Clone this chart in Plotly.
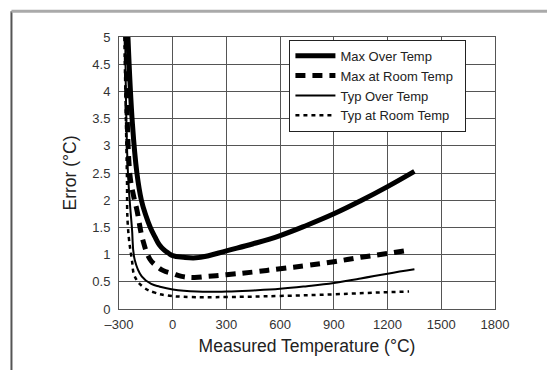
import plotly.graph_objects as go

# Error curves (temperature in °C, error in °C)
max_over_t = [-250, -225, -200, -175, -150, -125, -100, -75, -50, -25, 0, 60, 130, 200, 300, 450, 600, 750, 900, 1050, 1200, 1350]
max_over_e = [5.0, 3.4, 2.5, 2.0, 1.72, 1.5, 1.33, 1.18, 1.09, 1.03, 0.98, 0.95, 0.94, 0.98, 1.07, 1.2, 1.35, 1.54, 1.75, 1.99, 2.25, 2.53]

max_room_t = [-260, -240, -220, -200, -167, -128, -90, -55, 0, 50, 120, 200, 300, 450, 600, 750, 900, 1050, 1200, 1300]
max_room_e = [5.0, 2.5, 2.1, 1.82, 1.27, 0.92, 0.79, 0.71, 0.65, 0.6, 0.58, 0.6, 0.63, 0.68, 0.74, 0.8, 0.87, 0.95, 1.02, 1.07]

typ_over_t = [-265, -250, -228, -212, -173, -120, -72, 0, 135, 300, 450, 600, 750, 900, 1050, 1200, 1350]
typ_over_e = [5.0, 2.5, 1.5, 0.9, 0.6, 0.46, 0.41, 0.36, 0.32, 0.32, 0.34, 0.37, 0.42, 0.48, 0.56, 0.65, 0.73]

typ_room_t = [-270, -256, -250, -228, -212, -167, -100, -33, 100, 300, 600, 900, 1200, 1320]
typ_room_e = [5.0, 2.5, 1.5, 0.9, 0.6, 0.41, 0.3, 0.25, 0.22, 0.22, 0.24, 0.27, 0.31, 0.32]

x_ticks = [-300, 0, 300, 600, 900, 1200, 1500, 1800]
y_ticks = [0, 0.5, 1, 1.5, 2, 2.5, 3, 3.5, 4, 4.5, 5]

FONT = "Liberation Sans, Arial, sans-serif"
PAD = "\u00a0\u00a0"

fig = go.Figure()

series = [
    ("Max Over Temp", max_over_t, max_over_e, 5, "solid"),
    ("Max at Room Temp", max_room_t, max_room_e, 5, "10px,7px"),
    ("Typ Over Temp", typ_over_t, typ_over_e, 2, "solid"),
    ("Typ at Room Temp", typ_room_t, typ_room_e, 2.5, "4px,4px"),
]
for name, xs, ys, w, dash in series:
    fig.add_trace(go.Scatter(
        x=xs, y=ys, name=name + PAD, mode="lines",
        line=dict(color="black", width=w, dash=dash, shape="spline", smoothing=1.2),
    ))

axis_common = dict(
    showgrid=True, gridcolor="#555555", gridwidth=1,
    showline=True, linecolor="#555555", linewidth=1, mirror=True,
    zeroline=False, ticks="",
    tickfont=dict(family=FONT, size=13, color="#333333"),
)

fig.update_xaxes(
    range=[-300, 1800], tickvals=x_ticks,
    ticktext=["\u2013300"] + [str(v) for v in x_ticks[1:]],
    ticklabelstandoff=3,
    title=dict(text="Measured Temperature (°C)", font=dict(family=FONT, size=17.5, color="#222222"), standoff=9),
    **axis_common,
)
fig.update_yaxes(
    range=[0, 5], tickvals=y_ticks,
    ticktext=[("%g" % v) for v in y_ticks],
    ticklabelstandoff=5,
    title=dict(text="Error (°C)", font=dict(family=FONT, size=17.5, color="#222222"), standoff=11),
    **axis_common,
)

# page frame lines (left and top), placed relative to the plot area
fig.add_shape(type="line", xref="paper", yref="paper", x0=-0.286, x1=-0.286, y0=1.095, y1=-0.25,
              line=dict(color="#555555", width=2), layer="above")
fig.add_shape(type="line", xref="paper", yref="paper", x0=-0.286, x1=1.14, y0=1.095, y1=1.095,
              line=dict(color="#aaaaaa", width=3), layer="above")

fig.update_layout(
    width=547, height=370,
    margin=dict(l=119, r=52, t=37, b=61),
    paper_bgcolor="white", plot_bgcolor="white",
    showlegend=True,
    legend=dict(
        x=0.924, y=0.99, xanchor="right", yanchor="top",
        bgcolor="white", bordercolor="#222222", borderwidth=1,
        font=dict(family=FONT, size=13, color="#222222"),
        tracegroupgap=0, itemwidth=40,
    ),
    font=dict(family=FONT),
)

fig.write_html("out.html", config={"displayModeBar": False},
               post_script="document.body.style.margin='0';")
